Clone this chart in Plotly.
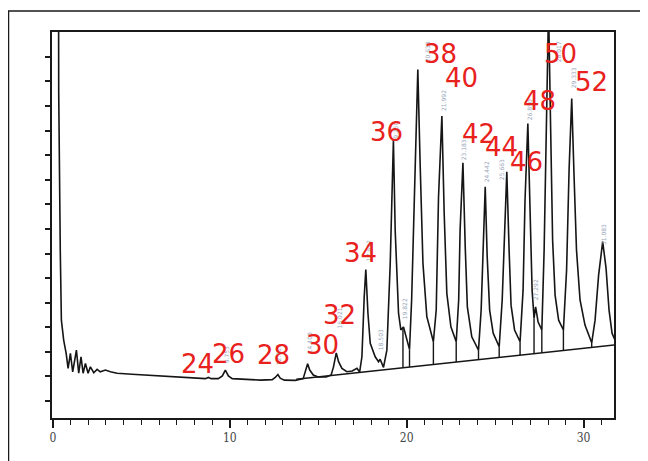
import plotly.graph_objects as go

# ---- chromatogram trace (retention time in min, detector signal in arbitrary units) ----
time_min = [
    0.30, 0.33, 0.42, 0.48, 0.61, 0.75, 0.86, 0.99, 1.12, 1.33, 1.46, 1.59, 1.71, 1.84, 1.99,
    2.12, 2.31, 2.50, 2.68, 2.97, 3.25, 3.63, 4.47, 5.23, 6.17, 7.11, 8.05, 8.62, 8.79, 8.95,
    9.35, 9.58, 9.75, 9.92, 10.14, 10.88, 11.72, 12.40, 12.57, 12.72, 12.85, 13.08, 13.70,
    14.15, 14.27, 14.40, 14.52, 14.72, 15.00, 15.45, 15.73, 15.86, 16.02, 16.15, 16.34, 16.62,
    16.92, 17.19, 17.34, 17.47, 17.60, 17.69, 17.81, 17.94, 18.22, 18.41, 18.50, 18.69,
    18.88, 19.07, 19.25, 19.35, 19.54, 19.67, 19.82, 19.97, 20.16,
    20.28, 20.38, 20.63, 20.76, 20.92, 21.14, 21.51,
    21.67, 21.80, 21.99, 22.12, 22.27, 22.50, 22.80,
    22.94, 23.02, 23.18, 23.31, 23.43, 23.68, 24.06,
    24.21, 24.32, 24.44, 24.55, 24.69, 24.89, 25.23,
    25.40, 25.51, 25.66, 25.79, 25.90, 26.10, 26.41,
    26.58, 26.69, 26.85, 26.98, 27.09, 27.20, 27.29, 27.43, 27.64,
    27.77, 27.88, 28.02, 28.14, 28.25, 28.39, 28.59, 28.86,
    29.04, 29.18, 29.33, 29.46, 29.60, 29.80, 30.08, 30.46,
    30.65, 30.85, 31.08, 31.27, 31.44, 31.61, 31.78,
]
signal = [
    25.0, 12.52, 6.02, 3.29, 2.48, 1.94, 1.33, 1.94, 1.19, 2.07, 1.13, 1.80, 1.13, 1.53, 1.13,
    1.39, 1.15, 1.29, 1.19, 1.26, 1.19, 1.13, 1.09, 1.06, 1.02, 0.96, 0.92, 0.91, 0.96, 0.91,
    0.91, 1.02, 1.26, 1.02, 0.91, 0.88, 0.85, 0.87, 0.96, 1.08, 0.93, 0.85, 0.84,
    0.91, 1.18, 1.52, 1.26, 1.06, 0.98, 0.98, 1.06, 1.38, 1.96, 1.60, 1.33, 1.19,
    1.22, 1.33, 1.18, 1.80, 4.24, 5.35, 3.57, 2.35, 1.80, 1.60, 1.70, 1.37,
    2.07, 5.60, 10.61, 6.95, 3.57, 2.89, 3.01, 2.56, 2.10,
    4.11, 6.95, 13.48, 9.67, 5.60, 3.43, 2.41,
    3.70, 8.30, 11.59, 7.64, 4.38, 3.02, 2.41,
    4.11, 6.95, 9.69, 6.27, 3.83, 2.61, 2.07,
    3.70, 6.14, 8.71, 5.89, 3.70, 2.76, 2.21,
    4.11, 6.54, 9.32, 6.14, 3.90, 2.89, 2.41,
    4.51, 8.17, 11.29, 7.36, 4.51, 3.37, 3.83, 3.21, 2.89,
    6.14, 11.02, 16.00, 11.02, 6.54, 4.31, 3.29, 2.89,
    5.33, 9.39, 12.30, 9.19, 6.14, 4.11, 3.09, 2.37,
    3.29, 5.12, 6.48, 5.41, 3.70, 2.76, 2.48,
]

# ---- integration baseline and drop lines ----
baseline_time = [13.76, 31.78]
baseline_signal = [0.89, 2.28]
drop_time = [19.79, 20.16, 21.51, 22.80, 24.06, 25.23, 26.41, 27.20, 27.64, 28.86, 30.46]
drop_top = [3.01, 2.10, 2.41, 2.41, 2.07, 2.21, 2.41, 3.37, 2.89, 2.89, 2.37]
drop_bottom = [1.36, 1.39, 1.49, 1.59, 1.69, 1.78, 1.87, 1.93, 1.96, 2.06, 2.18]

# ---- red carbon-number labels ----
carbon_labels = ["24", "26", "28", "30", "32", "34", "36", "38", "40", "42", "44", "46", "48", "50", "52", "54"]
label_time = [8.16, 9.92, 12.46, 15.25, 16.19, 17.37, 18.84, 21.89, 23.08, 24.04, 25.34, 26.75, 27.49, 28.67, 30.42, 31.89]
label_signal = [1.50, 1.91, 1.87, 2.28, 3.50, 6.02, 10.93, 14.11, 13.15, 10.85, 10.34, 9.73, 12.20, 14.11, 12.98, 7.09]

# ---- small rotated retention-time labels ----
rt_text = ["9.753", "12.717", "14.400", "16.021", "17.692", "18.503", "19.250", "19.822",
           "20.633", "21.992", "23.183", "24.442", "25.663", "26.850", "27.292", "28.017",
           "29.333", "31.083"]
rt_time = [9.80, 12.74, 14.49, 16.19, 17.82, 18.50, 19.35, 19.86, 21.16, 22.05, 23.19, 24.49,
           25.40, 26.92, 27.26, 28.56, 29.41, 31.10]
rt_signal = [1.87, 1.87, 2.36, 3.37, 6.10, 2.48, 10.93, 3.74, 14.19, 12.24, 10.20, 9.31,
             9.40, 11.83, 4.51, 14.19, 13.13, 6.75]

fig = go.Figure()

# drop lines
dx, dy = [], []
for t, top, bot in zip(drop_time, drop_top, drop_bottom):
    dx += [t, t, None]
    dy += [top, bot, None]
fig.add_trace(go.Scatter(x=dx, y=dy, mode="lines", line=dict(color="#151515", width=1.4),
                         hoverinfo="skip", showlegend=False))
fig.add_trace(go.Scatter(x=baseline_time, y=baseline_signal, mode="lines",
                         line=dict(color="#151515", width=1.5), showlegend=False))
fig.add_trace(go.Scatter(x=time_min, y=signal, mode="lines",
                         line=dict(color="#151515", width=1.6), showlegend=False))

for txt, t, v in zip(rt_text, rt_time, rt_signal):
    fig.add_annotation(x=t, y=v, xref="x", yref="y", text=txt, showarrow=False, textangle=-90,
                       font=dict(family="DejaVu Sans", size=6, color="#97a5bb"))

for txt, t, v in zip(carbon_labels, label_time, label_signal):
    fig.add_annotation(x=t, y=v, xref="x", yref="y", text=txt, showarrow=False,
                       font=dict(family="DejaVu Sans", size=26, color="#e8211c"))

# outer picture frame
fig.add_shape(type="path", xref="paper", yref="paper",
              path="M -0.0774,-0.2 L -0.0774,1.0544 L 1.1,1.0544",
              line=dict(color="#1a1a1a", width=1.5))

fig.update_layout(
    width=640, height=453,
    margin=dict(l=44, r=34, t=24, b=43),
    paper_bgcolor="white", plot_bgcolor="white",
    showlegend=False,
    xaxis=dict(range=[-0.05, 31.72], showgrid=False, zeroline=False,
               showline=True, linecolor="#1a1a1a", linewidth=1.6, mirror=True,
               ticks="outside", tickvals=[0, 10, 20, 30], ticklen=8, tickwidth=1.5,
               tickcolor="#1a1a1a",
               minor=dict(dtick=1, tick0=0, ticks="outside", ticklen=5, tickwidth=1.3,
                          tickcolor="#1a1a1a", showgrid=False),
               tickfont=dict(family="DejaVu Serif Condensed", size=12, color="#444444")),
    yaxis=dict(range=[-0.69, 15.01], showgrid=False, zeroline=False,
               showline=True, linecolor="#1a1a1a", linewidth=1.6, mirror=True,
               ticks="outside", tickvals=list(range(0, 15)), ticklen=5, tickwidth=1.5,
               tickcolor="#1a1a1a", showticklabels=False),
)

fig.write_html("out.html")
